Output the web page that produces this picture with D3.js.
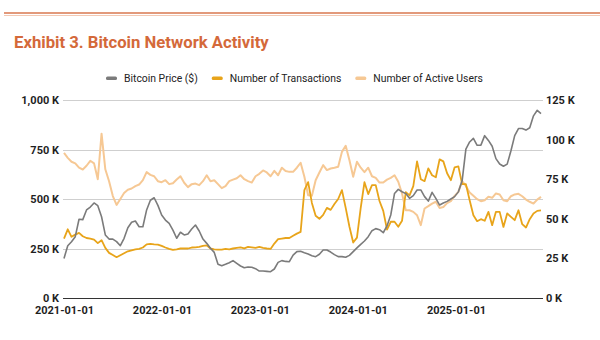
<!DOCTYPE html>
<html>
<head>
<meta charset="utf-8">
<script src="https://cdn.jsdelivr.net/npm/d3@7"></script>
<style>
  body { margin: 0; background: #fff; }
  svg { display: block; font-family: Roboto, "Noto Sans", sans-serif; }
</style>
</head>
<body>
<div id="chart"></div>
<script>
/**
 * DATA (biweekly samples)
 * */
const startDate = "2021-01-01";
const stepDays = 14;

// bitcoin price, thousand $ (right axis)
const price = [
  25, 33, 35.5, 38.7, 49.7, 49.5, 55.6, 57.4, 60, 58.3, 51.3, 39.8, 37.2, 37.2, 35.6, 33, 37.7, 44.4, 47.8, 48.6, 45, 45, 55.6, 61.7, 63.3, 58.5,
  52.4, 49.2, 47.1, 42.9, 37.7, 41.5, 39.8, 40.4, 43.6, 46.1, 42.3, 37.2, 34.5, 31.4, 28.8, 21.3, 20.4, 21.3, 22.3, 23.6, 21.9, 20.2, 19.1, 19.6,
  19.4, 18.5, 17, 17, 16.8, 16.6, 18.3, 22.5, 23.6, 23.1, 22.9, 27.1, 29.3, 29.5, 28.6, 27.8, 26.7, 26.1, 27.6, 30.3, 30.3, 29, 27.4, 26.1, 26.1,
  25.7, 26.9, 29.3, 31.6, 33.9, 36, 38.7, 42.5, 43.8, 43.1, 41.2, 45.5, 52.4, 66, 68.6, 67.1, 65.9, 62.9, 64.6, 68.2, 68.2, 64, 61.2, 66.7, 62.9, 58.7,
  60, 61, 62.5, 64, 67, 74, 94, 98.5, 100.8, 96.4, 96.5, 102.5, 99.5, 95.8, 88, 84.6, 83.2, 84.5, 93, 102.5, 107, 107, 106, 107.5, 115, 118.5, 116.4
];

// number of transactions, thousands (left axis)
const transactions = [
  300, 347, 309, 320, 329, 312, 303, 300, 295, 277, 292, 253, 228, 217, 206, 216, 226, 236, 241, 246, 248, 255, 271, 273, 271, 270,
  263, 255, 248, 243, 246, 250, 250, 250, 255, 256, 258, 263, 266, 250, 246, 244, 244, 248, 246, 250, 253, 256, 251, 258,
  256, 253, 258, 253, 250, 248, 275, 297, 300, 303, 303, 314, 325, 334, 545, 585, 480, 415, 400, 420, 455, 445, 475, 500, 545,
  455, 360, 280, 305, 455, 585, 525, 570, 570, 490, 440, 345, 385, 385, 360, 390, 535, 518, 565, 690, 600, 590, 655, 620, 610, 700,
  690, 630, 595, 660, 665, 575, 575, 494, 418, 388, 398, 390, 435, 368, 435, 435, 359, 427, 410, 393, 443, 373, 356, 398, 427, 440, 443
];

// number of active users, thousands (left axis)
const activeUsers = [
  733, 708, 688, 680, 658, 649, 668, 693, 680, 600, 830, 650, 590, 515, 470, 500, 530, 547, 553, 565, 573, 595, 636, 622, 615, 590,
  585, 595, 575, 580, 598, 615, 582, 560, 575, 578, 570, 590, 620, 590, 595, 575, 555, 565, 590, 598, 605, 620, 600, 590,
  583, 615, 627, 644, 634, 615, 642, 620, 658, 641, 637, 637, 658, 683, 612, 519, 516, 595, 634, 671, 646, 654, 658, 663, 738,
  769, 696, 612, 688, 658, 636, 658, 615, 607, 583, 583, 598, 607, 620, 587, 528, 443, 443, 435, 418, 368, 452, 464, 477, 486, 455,
  460, 479, 489, 516, 536, 590, 566, 533, 516, 499, 489, 494, 511, 506, 528, 523, 494, 489, 514, 523, 526, 514, 497, 486, 477, 497, 511
];

const leftTicks = [0, 250, 500, 750, 1000];
const rightTicks = [0, 25, 50, 75, 100, 125];
const xTickLabels = ["2021-01-01", "2022-01-01", "2023-01-01", "2024-01-01", "2025-01-01"];

const seriesNames = ["Bitcoin Price ($)", "Number of Transactions", "Number of Active Users"];
const seriesColors = ["#7b7b7b", "#e8a41a", "#f6c894"];

/**
 * CONSTANTS
 * */
const width = 600,
  height = 340,
  plot = { left: 64, right: 541, top: 100, bottom: 298, gridEnd: 543 };

const parse = d3.timeParse("%Y-%m-%d");

init();

function init() {
  const svg = d3.select("#chart")
    .append("svg")
    .attr("width", width)
    .attr("height", height);

  const t0 = parse(startDate);
  const dates = price.map((_, i) => d3.timeDay.offset(t0, i * stepDays));

  // top rule + title
  svg.append("line")
    .attr("x1", 4).attr("x2", width).attr("y1", 13).attr("y2", 13)
    .attr("stroke", "#d9774f").attr("stroke-width", 1.4);
  svg.append("line")
    .attr("x1", 4).attr("x2", width).attr("y1", 15.5).attr("y2", 15.5)
    .attr("stroke", "#f3c9b4").attr("stroke-width", 1);

  svg.append("text")
    .attr("x", 14).attr("y", 48)
    .attr("fill", "#d4693a")
    .attr("font-size", 16.7)
    .attr("font-weight", 700)
    .text("Exhibit 3. Bitcoin Network Activity");

  // scales
  const x = d3.scaleTime()
    .domain([dates[0], dates[dates.length - 1]])
    .range([plot.left, plot.right]);

  const yLeft = d3.scaleLinear().domain([0, 1000]).range([plot.bottom, plot.top]);
  const yRight = d3.scaleLinear().domain([0, 125]).range([plot.bottom, plot.top]);

  // grid (left axis ticks)
  svg.append("g")
    .selectAll("line")
    .data(leftTicks.filter(d => d > 0))
    .join("line")
      .attr("x1", plot.left - 1).attr("x2", plot.gridEnd)
      .attr("y1", d => Math.round(yLeft(d)) + 0.5)
      .attr("y2", d => Math.round(yLeft(d)) + 0.5)
      .attr("stroke", "#cfcfcf");

  // left / right axis labels
  const kfmt = d => d3.format(",")(d) + " K";
  const gl = svg.append("g")
    .attr("transform", `translate(${plot.left - 1},0)`)
    .call(d3.axisLeft(yLeft).tickValues(leftTicks).tickFormat(kfmt).tickSize(0).tickPadding(4));
  gl.select(".domain").remove();

  const gr = svg.append("g")
    .attr("transform", `translate(${plot.gridEnd},0)`)
    .call(d3.axisRight(yRight).tickValues(rightTicks).tickFormat(kfmt).tickSize(0).tickPadding(3));
  gr.select(".domain").remove();

  // x axis
  const gx = svg.append("g")
    .attr("transform", `translate(0,${plot.bottom})`)
    .call(d3.axisBottom(x)
      .tickValues(xTickLabels.map(parse))
      .tickFormat(d3.timeFormat("%Y-%m-%d"))
      .tickSize(0).tickPadding(8.5));
  gx.select(".domain").remove();

  svg.selectAll(".tick text")
    .attr("font-family", "Roboto, sans-serif")
    .attr("font-size", 11)
    .attr("font-weight", 700)
    .attr("fill", "#1f1f1f");

  // lines
  const lineL = d3.line().x((d, i) => x(dates[i])).y(d => yLeft(d));
  const lineR = d3.line().x((d, i) => x(dates[i])).y(d => yRight(d));

  svg.append("path")
    .datum(activeUsers)
    .attr("fill", "none")
    .attr("stroke", seriesColors[2])
    .attr("stroke-width", 2)
    .attr("stroke-linejoin", "round")
    .attr("d", lineL);

  svg.append("path")
    .datum(transactions)
    .attr("fill", "none")
    .attr("stroke", seriesColors[1])
    .attr("stroke-width", 1.8)
    .attr("stroke-linejoin", "round")
    .attr("d", lineL);

  svg.append("path")
    .datum(price)
    .attr("fill", "none")
    .attr("stroke", seriesColors[0])
    .attr("stroke-width", 1.6)
    .attr("stroke-linejoin", "round")
    .attr("d", lineR);

  // baseline
  svg.append("line")
    .attr("x1", plot.left - 1).attr("x2", plot.gridEnd)
    .attr("y1", plot.bottom + 0.5).attr("y2", plot.bottom + 0.5)
    .attr("stroke", "#333");

  // legend
  const legend = svg.append("g").attr("transform", "translate(106,78)");
  let lx = 0;
  seriesNames.forEach((name, i) => {
    const item = legend.append("g").attr("transform", `translate(${lx},0)`);
    item.append("rect")
      .attr("x", 0).attr("y", -1.5)
      .attr("width", 11).attr("height", 3.5).attr("rx", 1.5)
      .attr("fill", seriesColors[i]);
    const t = item.append("text")
      .attr("x", 18).attr("y", 4)
      .attr("font-size", 10.4)
      .attr("fill", "#222")
      .text(name);
    lx += 18 + t.node().getComputedTextLength() + 14;
  });
}
</script>
</body>
</html>
